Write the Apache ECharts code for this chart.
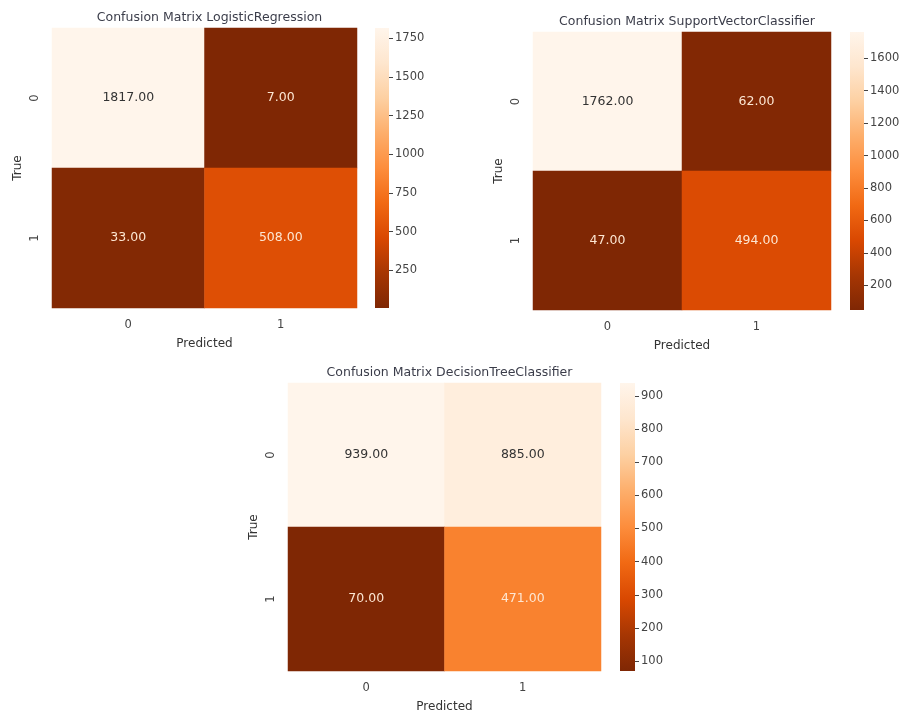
<!DOCTYPE html>
<html>
<head>
<meta charset="utf-8">
<script src="https://cdn.jsdelivr.net/npm/echarts@6/dist/echarts.min.js"></script>
<style>html,body{margin:0;padding:0;background:#fff;}#c{width:901px;height:713px;}</style>
</head>
<body>
<div id="c"></div>
<script>
// ---- data ----
var classLabels = ['0', '1'];
var titles = ['Confusion Matrix LogisticRegression', 'Confusion Matrix SupportVectorClassifier', 'Confusion Matrix DecisionTreeClassifier'];
var lrMatrix = [[1817, 7], [33, 508]];
var svcMatrix = [[1762, 62], [47, 494]];
var dtMatrix = [[939, 885], [70, 471]];
var lrTicks = [250, 500, 750, 1000, 1250, 1500, 1750];
var svcTicks = [200, 400, 600, 800, 1000, 1200, 1400, 1600];
var dtTicks = [100, 200, 300, 400, 500, 600, 700, 800, 900];

var matrices = [lrMatrix, svcMatrix, dtMatrix];
var tickSets = [lrTicks, svcTicks, dtTicks];

// layout (px)
var grids = [
  {left: 52, top: 28, width: 305, height: 280},
  {left: 533, top: 32, width: 298, height: 278},
  {left: 288, top: 383, width: 313, height: 288}
];
var bars = [
  {left: 375, top: 28, width: 14, height: 280},
  {left: 850, top: 32, width: 14, height: 278},
  {left: 620, top: 383, width: 15, height: 288}
];

var cmap = ['#7f2704', '#a63603', '#d94801', '#f16913', '#fd8d3c', '#fdae6b', '#fdd0a2', '#fee6ce', '#fff5eb'];
var FONT = 'DejaVu Sans';

function gradient() {
  var stops = [];
  for (var i = 0; i < cmap.length; i++) {
    stops.push({offset: 1 - i / (cmap.length - 1), color: cmap[i]});
  }
  stops.sort(function (a, b) { return a.offset - b.offset; });
  return {type: 'linear', x: 0, y: 0, x2: 0, y2: 1, colorStops: stops};
}

var option = {
  backgroundColor: '#fff',
  animation: false,
  textStyle: {fontFamily: FONT},
  title: [], grid: [], xAxis: [], yAxis: [], series: [], visualMap: []
};

matrices.forEach(function (m, k) {
  var flat = [];
  m.forEach(function (r) { r.forEach(function (v) { flat.push(v); }); });
  var mn = Math.min.apply(null, flat), mx = Math.max.apply(null, flat);
  var g = grids[k], b = bars[k];

  option.title.push({
    text: titles[k], left: g.left + g.width / 2, top: g.top - 22, textAlign: 'center',
    textStyle: {fontFamily: FONT, fontSize: 12.5, fontWeight: 'normal', color: '#3b3d4a'}
  });
  option.grid.push({left: g.left, top: g.top, width: g.width, height: g.height,
    containLabel: false, outerBoundsMode: 'none'});
  option.grid.push({left: b.left, top: b.top, width: b.width, height: b.height,
    containLabel: false, outerBoundsMode: 'none',
    show: true, backgroundColor: gradient(), borderWidth: 0});

  var gi = k * 2;
  option.xAxis.push({
    type: 'category', gridIndex: gi, data: classLabels, name: 'Predicted',
    nameLocation: 'middle', nameGap: 30,
    nameTextStyle: {fontFamily: FONT, fontSize: 12, color: '#333'},
    axisLine: {show: false}, axisTick: {show: false}, splitLine: {show: false},
    axisLabel: {fontFamily: FONT, fontSize: 11.5, color: '#444', margin: 11}
  });
  option.yAxis.push({
    type: 'category', gridIndex: gi, data: classLabels, inverse: true, name: 'True',
    nameLocation: 'middle', nameGap: 28,
    nameTextStyle: {fontFamily: FONT, fontSize: 12, color: '#333'},
    axisLine: {show: false}, axisTick: {show: false}, splitLine: {show: false},
    axisLabel: {fontFamily: FONT, fontSize: 11.5, color: '#444', rotate: 90, margin: 11}
  });
  option.xAxis.push({type: 'category', gridIndex: gi + 1, data: [''], show: false});
  option.yAxis.push({
    type: 'value', gridIndex: gi + 1, min: mn, max: mx, position: 'right',
    axisLine: {show: false}, splitLine: {show: false},
    axisTick: {show: true, length: 4, inside: false, customValues: tickSets[k], lineStyle: {color: '#444'}},
    axisLabel: {show: true, margin: 6, customValues: tickSets[k], fontFamily: FONT, fontSize: 11.5, color: '#444',
      formatter: function (v) { return String(v); }}
  });

  var data = [];
  for (var i = 0; i < m.length; i++) {
    for (var j = 0; j < m[i].length; j++) {
      var v = m[i][j];
      var t = (v - mn) / (mx - mn);
      data.push({value: [j, i, v], label: {color: t < 0.6 ? '#fde6d2' : '#333333'}});
    }
  }
  option.series.push({
    type: 'heatmap', xAxisIndex: gi, yAxisIndex: gi, data: data,
    label: {show: true, fontFamily: FONT, fontSize: 12.5,
      formatter: function (p) { return p.value[2].toFixed(2); }},
    itemStyle: {borderWidth: 0},
    emphasis: {disabled: true}
  });
  option.visualMap.push({
    type: 'continuous', show: false, min: mn, max: mx, seriesIndex: k, dimension: 2,
    inRange: {color: cmap}
  });
});

var chart = echarts.init(document.getElementById('c'), null, {renderer: 'canvas'});
chart.setOption(option);
</script>
</body>
</html>
